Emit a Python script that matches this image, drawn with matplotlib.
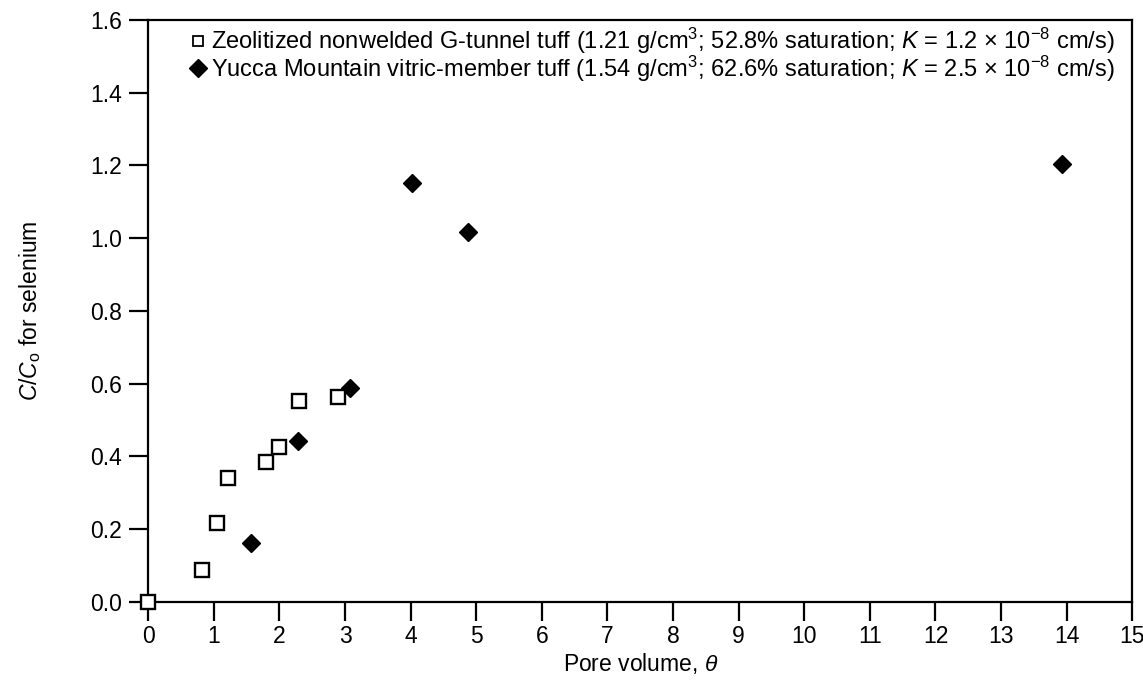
import numpy as np
import matplotlib
matplotlib.use('Agg')
from matplotlib import pyplot as plt
from matplotlib.lines import Line2D

plt.rcParams['font.family'] = ['Liberation Sans', 'DejaVu Sans']
plt.rcParams['mathtext.fontset'] = 'custom'
plt.rcParams['mathtext.rm'] = 'Liberation Sans'
plt.rcParams['mathtext.it'] = 'Liberation Sans:italic'
plt.rcParams['mathtext.bf'] = 'Liberation Sans:bold'

# zeolitized nonwelded G-tunnel tuff (open squares)
g_x = [0.0, 0.82, 1.05, 1.22, 1.79, 2.00, 2.30, 2.90]
g_y = [0.0, 0.087, 0.217, 0.339, 0.385, 0.426, 0.552, 0.562]

# Yucca Mountain vitric-member tuff (filled diamonds)
y_x = [1.56, 2.28, 3.07, 4.02, 4.87, 13.93]
y_y = [0.161, 0.442, 0.587, 1.153, 1.017, 1.203]

xticks = list(range(0, 16))
yticks = [0.0, 0.2, 0.4, 0.6, 0.8, 1.0, 1.2, 1.4, 1.6]

lab_g = ('Zeolitized nonwelded G-tunnel tuff (1.21 g/cm$^3$; 52.8% saturation; '
         '$K$ = 1.2 $\\times$ 10$^{-8}$ cm/s)')
lab_y = ('Yucca Mountain vitric-member tuff (1.54 g/cm$^3$; 62.6% saturation; '
         '$K$ = 2.5 $\\times$ 10$^{-8}$ cm/s)')

fs = 16.5

fig = plt.figure(figsize=(11.43, 6.86), dpi=100)
ax = fig.add_axes([0.1297, 0.1229, 0.9906 - 0.1297, 0.9708 - 0.1229])

ax.plot(y_x, y_y, linestyle='none', marker='D', markersize=9.5,
        color='black', mec='black', mew=1, zorder=3, clip_on=False)
ax.plot(g_x, g_y, linestyle='none', marker='s', markersize=10,
        mfc='white', mec='black', mew=1.7, zorder=4, clip_on=False)

ax.set_xlim(0, 15)
ax.set_ylim(0, 1.6)
ax.set_xticks(xticks)
ax.set_yticks(yticks)
ax.set_yticklabels([f'{v:.1f}' for v in yticks])

for s in ax.spines.values():
    s.set_linewidth(1.6)
ax.tick_params(direction='out', length=14, width=1.6, labelsize=fs,
               top=False, right=False, pad=5)
ax.tick_params(axis='x', pad=3)

ax.set_xlabel('Pore volume, $\\theta$', fontsize=fs, labelpad=2)
ax.set_ylabel('$C$/$C_\\mathrm{o}$ for selenium', fontsize=fs, labelpad=34)

h_g = Line2D([], [], linestyle='none', marker='s', markersize=7,
             mfc='white', mec='black', mew=1.3)
h_y = Line2D([], [], linestyle='none', marker='D', markersize=9,
             color='black')
ax.legend([h_g, h_y], [lab_g, lab_y], loc='upper left',
          bbox_to_anchor=(0.029, 1.006), frameon=False, fontsize=17,
          handlelength=1.0, handletextpad=0.05, labelspacing=-0.12,
          borderaxespad=0)

fig.savefig('out.png', dpi=100)
